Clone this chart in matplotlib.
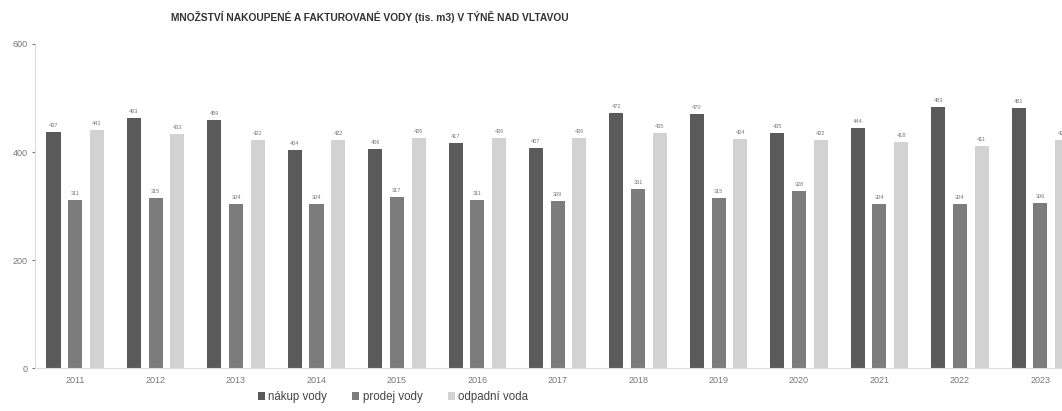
import matplotlib
matplotlib.use("Agg")
import matplotlib.pyplot as plt
import numpy as np

# values (tis. m3)
years = ["2011", "2012", "2013", "2014", "2015", "2016", "2017",
         "2018", "2019", "2020", "2021", "2022", "2023"]
nakup = [437, 463, 459, 404, 406, 417, 407, 472, 470, 435, 444, 483, 481]
prodej = [311, 315, 304, 304, 317, 311, 309, 331, 315, 328, 304, 304, 306]
odpadni = [441, 433, 422, 422, 426, 426, 426, 435, 424, 422, 418, 411, 422]

series = [
    ("nákup vody", nakup, "#5a5a5a"),
    ("prodej vody", prodej, "#7c7c7c"),
    ("odpadní voda", odpadni, "#d2d2d2"),
]

plt.rcParams['font.family'] = ['Liberation Sans', 'DejaVu Sans']

fig = plt.figure(figsize=(10.62, 4.11), dpi=100, facecolor='white')
ax = fig.add_axes([35 / 1062, 43 / 411, 1 - 35 / 1062, 324 / 411])

x = np.arange(len(years))
width = 0.175
offset = 0.27

handles = []
for i, (name, vals, color) in enumerate(series):
    rects = ax.bar(x + (i - 1) * offset, vals, width, color=color, label=name)
    handles.append(rects)
    for r in rects:
        ax.annotate(f"{r.get_height():.0f}",
                    xy=(r.get_x() + r.get_width() / 2, r.get_height()),
                    xytext=(0, 3), textcoords="offset points",
                    ha='center', va='bottom', fontsize=4, color='#777777')

ax.set_xlim(-0.5, 12.27)
ax.set_ylim(0, 600)
ax.set_yticks([0, 200, 400, 600])
ax.set_xticks(x)
ax.set_xticklabels(years)
ax.tick_params(axis='both', labelsize=6.5, colors='#777777', length=2)
ax.tick_params(axis='x', length=0, pad=6)

for spine in ['top', 'right']:
    ax.spines[spine].set_visible(False)
ax.spines['left'].set_color('#dddddd')
ax.spines['bottom'].set_color('#dddddd')

fig.text(370 / 1062, 1 - 17 / 411,
         "MNOŽSTVÍ NAKOUPENÉ A FAKTUROVANÉ VODY (tis. m3) V TÝNĚ NAD VLTAVOU",
         ha='center', va='center', fontsize=7.4, fontweight='bold', color='#333333')

fig.legend(handles=handles, loc='center', bbox_to_anchor=(393 / 1062, 1 - 397 / 411),
           ncol=3, frameon=False, fontsize=8.3, handlelength=0.6, handleheight=0.6,
           handletextpad=0.3, columnspacing=2.2, labelcolor='#444444')

fig.savefig("out.png", dpi=100, facecolor='white')
